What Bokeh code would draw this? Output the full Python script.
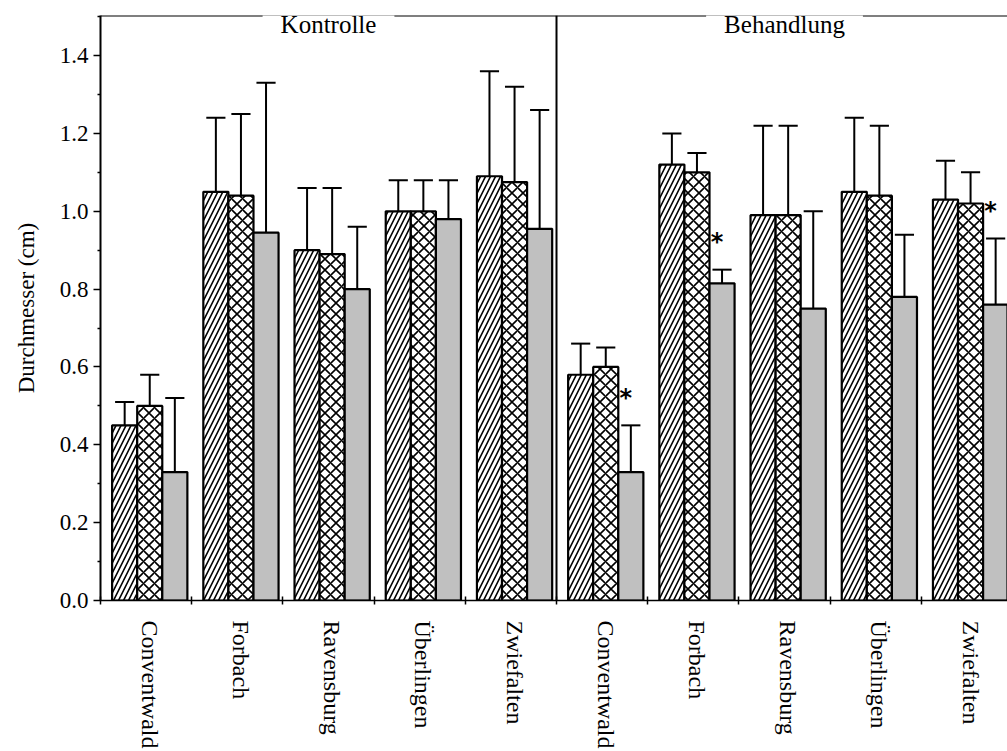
from bokeh.plotting import figure
from bokeh.models import (Range1d, FixedTicker, Span, Label, ColumnDataSource,
                          PrintfTickFormatter, CustomJSTickFormatter)
from bokeh.core.properties import value
from bokeh.embed import file_html
from bokeh.resources import INLINE

# ---------------- data ----------------
categories = ["Conventwald", "Forbach", "Ravensburg", "Überlingen", "Zwiefalten",
              "Conventwald", "Forbach", "Ravensburg", "Überlingen", "Zwiefalten"]
section_names = ["Kontrolle", "Behandlung"]

hatched_mean = [0.45, 1.05, 0.90, 1.00, 1.09, 0.58, 1.12, 0.99, 1.05, 1.03]
hatched_upper = [0.51, 1.24, 1.06, 1.08, 1.36, 0.66, 1.20, 1.22, 1.24, 1.13]
cross_mean = [0.50, 1.04, 0.89, 1.00, 1.075, 0.60, 1.10, 0.99, 1.04, 1.02]
cross_upper = [0.58, 1.25, 1.06, 1.08, 1.32, 0.65, 1.15, 1.22, 1.22, 1.10]
gray_mean = [0.33, 0.945, 0.80, 0.98, 0.955, 0.33, 0.815, 0.75, 0.78, 0.76]
gray_upper = [0.52, 1.33, 0.96, 1.08, 1.26, 0.45, 0.85, 1.00, 0.94, 0.93]
significant = [False, False, False, False, False, True, True, False, False, True]

y_ticks = [0.0, 0.2, 0.4, 0.6, 0.8, 1.0, 1.2, 1.4]
y_minor = [0.1, 0.3, 0.5, 0.7, 0.9, 1.1, 1.3, 1.5]

FONT = "Liberation Serif"
n = len(categories)
idx = list(range(n))
bw = 0.275
off = [-bw, 0.0, bw]
left_edge = -0.54

p = figure(width=1007, height=751,
           x_range=Range1d(left_edge, left_edge + 9.945), y_range=Range1d(0, 1.503),
           output_backend="svg", toolbar_location=None,
           min_border_left=100, min_border_right=0, min_border_top=15, min_border_bottom=151)
p.grid.visible = False
p.outline_line_color = None
p.background_fill_color = "white"
p.border_fill_color = "white"

# top line + section divider
top_line = Span(location=1.503, dimension="width", line_color="black", line_width=2, level="underlay")
divider = Span(location=left_edge + 5, dimension="height", line_color="black", line_width=2)
p.add_layout(top_line)
p.add_layout(divider)

series = [
    (hatched_mean, hatched_upper, dict(fill_color="white", hatch_pattern="/", hatch_scale=10)),
    (cross_mean, cross_upper, dict(fill_color="white", hatch_pattern="x", hatch_scale=11)),
    (gray_mean, gray_upper, dict(fill_color="#c0c0c0")),
]
for k, (mean, upper, style) in enumerate(series):
    xs = [i + off[k] for i in idx]
    src = ColumnDataSource(dict(x=xs, top=mean, up=upper,
                                c0=[x - 0.105 for x in xs], c1=[x + 0.105 for x in xs]))
    p.vbar(x="x", top="top", bottom=0, width=bw, source=src, line_color="black", line_width=2.2,
           hatch_color="black", hatch_weight=1.6, **style)
    p.segment(x0="x", y0="top", x1="x", y1="up", source=src, line_color="black", line_width=2)
    p.segment(x0="c0", y0="up", x1="c1", y1="up", source=src, line_color="black", line_width=2)

# significance asterisks
sx = [i + off[2] - 0.055 for i in idx if significant[i]]
sy = [gray_upper[i] + 0.07 for i in idx if significant[i]]
p.text(x=sx, y=sy, text=["*"] * len(sx), text_font=value("DejaVu Sans"), text_font_size="24px",
       text_font_style="bold", text_align="center", text_baseline="middle", text_color="#000000")

# section titles
for s, name in enumerate(section_names):
    lab = Label(x=left_edge + 2.5 + 5 * s, y=1.503, text=name, text_font=FONT, text_font_size="25px",
                text_align="center", text_baseline="alphabetic", y_offset=-9,
                background_fill_color="white", padding=18, text_color="black")
    p.add_layout(lab)

# y axis
ya = p.yaxis[0]
ya.ticker = FixedTicker(ticks=y_ticks, minor_ticks=y_minor)
ya.formatter = PrintfTickFormatter(format="%.1f")
ya.major_tick_in = 0
ya.major_tick_out = 7
ya.minor_tick_in = 0
ya.minor_tick_out = 3
ya.axis_line_width = 2
ya.major_tick_line_width = 1.5
ya.minor_tick_line_width = 1.5
ya.major_label_text_font = FONT
ya.major_label_text_font_size = "23px"
ya.major_label_text_color = "black"
ya.major_label_standoff = 5
ya.axis_label = "Durchmesser (cm)"
ya.axis_label_text_font = FONT
ya.axis_label_text_font_size = "23px"
ya.axis_label_text_font_style = "normal"
ya.axis_label_text_color = "black"
ya.axis_label_standoff = 18

# x axis
xa = p.xaxis[0]
xa.ticker = FixedTicker(ticks=idx, minor_ticks=[left_edge + g for g in range(11)])
xa.formatter = CustomJSTickFormatter(args=dict(names=categories),
                                     code="const i = Math.round(tick); return names[i] || '';")
xa.major_tick_in = 0
xa.major_tick_out = 0
xa.minor_tick_in = 4
xa.minor_tick_out = 4
xa.minor_tick_line_width = 1.5
xa.axis_line_width = 1.5
xa.major_label_orientation = "vertical"
xa.major_label_standoff = 16
xa.major_label_text_font = FONT
xa.major_label_text_font_size = "24px"
xa.major_label_text_color = "black"

open("out.html", "w").write(file_html(p, INLINE))
